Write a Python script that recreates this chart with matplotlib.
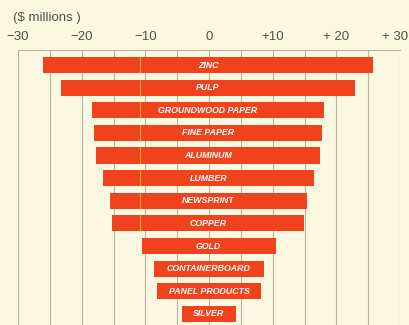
import numpy as np
import matplotlib.pyplot as plt

# commodities, top to bottom
categories = ['ZINC', 'PULP', 'GROUNDWOOD PAPER', 'FINE PAPER', 'ALUMINUM',
              'LUMBER', 'NEWSPRINT', 'COPPER', 'GOLD', 'CONTAINERBOARD',
              'PANEL PRODUCTS', 'SILVER']
# low / high ends of each bar ($ millions)
low = [-26.0, -23.2, -18.4, -18.0, -17.7, -16.7, -15.6, -15.2, -10.6, -8.6, -8.1, -4.2]
high = [25.8, 22.9, 18.1, 17.8, 17.5, 16.5, 15.4, 14.9, 10.5, 8.6, 8.1, 4.2]

tick_vals = [-30, -20, -10, 0, 10, 20, 30]
tick_labels = ['\u221230', '\u221220', '\u221210', '0', '+10', '+ 20', '+ 30']

bg = '#fbf8e1'
bar_col = '#f0431d'
grid_col = '#b9b39c'

fig = plt.figure(figsize=(4.1, 3.25), dpi=100, facecolor=bg)
ax = fig.add_axes([18/410, 0, 382/410, 1 - 50/325])
ax.set_facecolor(bg)

y = np.arange(len(categories))
low = np.array(low)
high = np.array(high)
h = 0.71

# grid every 5
for gx in range(-30, 31, 5):
    ax.axvline(gx, color=grid_col, lw=0.8, zorder=1)

ax.barh(y, high - low, left=low, height=h, color=bar_col, zorder=2)

# faint orange print line through the wider bars
for i in range(len(y)):
    if low[i] < -10.9:
        ax.vlines(-10.8, y[i] - h/2, y[i] + h/2, color='#f6a53a', lw=0.8, zorder=3)

for i, name in enumerate(categories):
    ax.text((low[i] + high[i]) / 2, y[i], name, color='white', fontsize=6.3,
            fontweight='bold', fontstyle='italic', family='Liberation Sans',
            ha='center', va='center', zorder=4)

ax.set_xlim(-30, 30)
ax.set_ylim(11.49, -0.663)
ax.set_yticks([])
ax.set_xticks([])
for s in ['left', 'right', 'bottom']:
    ax.spines[s].set_visible(False)
ax.spines['top'].set_color(grid_col)
ax.spines['top'].set_linewidth(0.8)

# tick labels above the frame
for v, lab in zip(tick_vals, tick_labels):
    if v == 30:
        # keep the last label inside the picture
        fig.text(408/410, 1 - 37/325, lab, ha='right', va='center', fontsize=9.5,
                 color='#505050', family='Liberation Sans')
        continue
    ax.text(v, -0.663 - 0.58, lab, ha='center', va='center', fontsize=9.5,
            color='#505050', family='Liberation Sans', clip_on=False)

fig.text(13/410, 1 - 18/325, '($ millions )', ha='left', va='center',
         fontsize=9.5, color='#505050', family='Liberation Sans')

fig.savefig('out.png', dpi=100, facecolor=bg)
